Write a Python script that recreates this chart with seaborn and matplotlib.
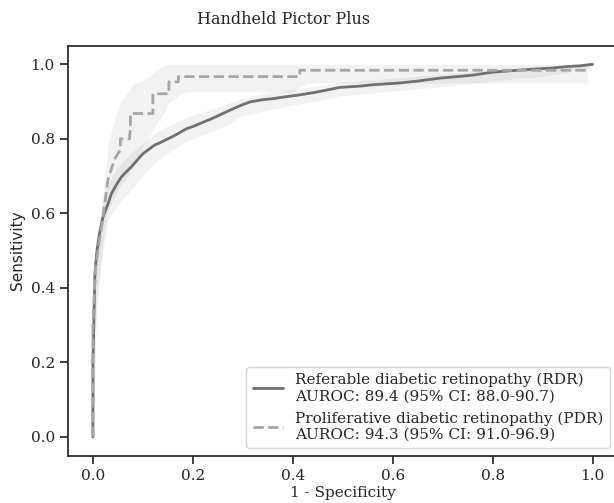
import matplotlib
matplotlib.use("Agg")
import matplotlib.pyplot as plt
import seaborn as sns
import pandas as pd

# --- ROC curve values ---
rdr_fpr = [0.0, 0.0, 0.002, 0.004, 0.008, 0.013, 0.02, 0.03, 0.037, 0.047, 0.057,
           0.067, 0.077, 0.09, 0.1, 0.112, 0.123, 0.135, 0.15, 0.165, 0.187, 0.2,
           0.214, 0.241, 0.26, 0.281, 0.3, 0.314, 0.34, 0.361, 0.381, 0.414, 0.45,
           0.494, 0.53, 0.56, 0.615, 0.65, 0.695, 0.73, 0.761, 0.8, 0.84, 0.881,
           0.92, 0.948, 0.975, 1.0]
rdr_tpr = [0.0, 0.2, 0.32, 0.44, 0.5, 0.545, 0.59, 0.625, 0.653, 0.677, 0.698,
           0.712, 0.725, 0.745, 0.76, 0.772, 0.783, 0.79, 0.8, 0.81, 0.827, 0.833,
           0.841, 0.856, 0.868, 0.881, 0.892, 0.899, 0.905, 0.908, 0.912, 0.918,
           0.926, 0.938, 0.941, 0.945, 0.95, 0.955, 0.963, 0.967, 0.971, 0.979,
           0.983, 0.987, 0.99, 0.994, 0.996, 1.0]

pdr_fpr = [0.0, 0.0, 0.005, 0.012, 0.018, 0.025, 0.03, 0.037, 0.045, 0.055, 0.055,
           0.073, 0.075, 0.075, 0.12, 0.12, 0.152, 0.152, 0.171, 0.171, 0.414,
           0.414, 0.99]
pdr_tpr = [0.0, 0.3, 0.45, 0.52, 0.57, 0.64, 0.69, 0.72, 0.75, 0.77, 0.80, 0.80,
           0.83, 0.868, 0.868, 0.921, 0.921, 0.953, 0.953, 0.967, 0.967, 0.984,
           0.984]

# 95% CI bands
rdr_band_x = [0.0, 0.005, 0.01, 0.02, 0.03, 0.05, 0.07, 0.09, 0.103, 0.123, 0.143,
              0.19, 0.25, 0.3, 0.35, 0.4, 0.5, 0.6, 0.7, 0.8, 0.9, 0.95, 1.0]
rdr_lo = [0.0, 0.28, 0.4, 0.5, 0.582, 0.625, 0.653, 0.685, 0.707, 0.735, 0.756,
          0.796, 0.825, 0.862, 0.877, 0.89, 0.915, 0.928, 0.94, 0.955, 0.968,
          0.978, 0.995]
rdr_hi = [0.0, 0.47, 0.56, 0.64, 0.68, 0.725, 0.755, 0.778, 0.79, 0.814, 0.83,
          0.859, 0.885, 0.91, 0.924, 0.933, 0.952, 0.963, 0.973, 0.985, 0.993,
          0.997, 1.0]

pdr_band_x = [0.0, 0.007, 0.02, 0.03, 0.053, 0.077, 0.083, 0.103, 0.107, 0.123,
              0.143, 0.15, 0.177, 0.19, 0.4, 0.43, 0.99]
pdr_lo = [0.0, 0.35, 0.52, 0.609, 0.67, 0.716, 0.73, 0.787, 0.79, 0.832, 0.87,
          0.895, 0.921, 0.926, 0.926, 0.95, 0.95]
pdr_hi = [0.0, 0.483, 0.653, 0.787, 0.895, 0.94, 0.948, 0.958, 0.961, 0.98, 0.997,
          1.0, 1.0, 1.0, 1.0, 1.0, 1.0]

rdr_label = "Referable diabetic retinopathy (RDR)\nAUROC: 89.4 (95% CI: 88.0-90.7)"
pdr_label = "Proliferative diabetic retinopathy (PDR)\nAUROC: 94.3 (95% CI: 91.0-96.9)"

sns.set_theme(style="ticks")
plt.rcParams["font.family"] = ["DejaVu Serif"]

fig = plt.figure(figsize=(6.14, 5.03), dpi=100)
ax = fig.add_axes([0.1107, 0.0942, 0.895, 0.815])

df_rdr = pd.DataFrame({"fpr": rdr_fpr, "tpr": rdr_tpr})
df_pdr = pd.DataFrame({"fpr": pdr_fpr, "tpr": pdr_tpr})

# CI shading
ax.fill_between(rdr_band_x, rdr_lo, rdr_hi, color="grey", alpha=0.1, linewidth=0)
ax.fill_between(pdr_band_x, pdr_lo, pdr_hi, color="grey", alpha=0.1, linewidth=0)

sns.lineplot(data=df_rdr, x="fpr", y="tpr", estimator=None, sort=False, ax=ax,
             color="#707070", linewidth=2, label=rdr_label)
sns.lineplot(data=df_pdr, x="fpr", y="tpr", estimator=None, sort=False, ax=ax,
             color="#a6a6a6", linewidth=2, linestyle="--", label=pdr_label)

ax.set_xlim(-0.05, 1.05)
ax.set_ylim(-0.05, 1.05)
ax.set_xticks([0.0, 0.2, 0.4, 0.6, 0.8, 1.0])
ax.set_yticks([0.0, 0.2, 0.4, 0.6, 0.8, 1.0])
ax.tick_params(labelsize=11)
ax.set_xlabel("1 - Specificity", fontsize=11, labelpad=2)
ax.set_ylabel("Sensitivity", fontsize=11, family="DejaVu Sans")
fig.suptitle("Handheld Pictor Plus", x=284 / 614, y=0.978, fontsize=11.5)

ax.legend(loc="lower right", fontsize=11, frameon=True, handlelength=2)

fig.savefig("out.png", dpi=100)
plt.close(fig)
